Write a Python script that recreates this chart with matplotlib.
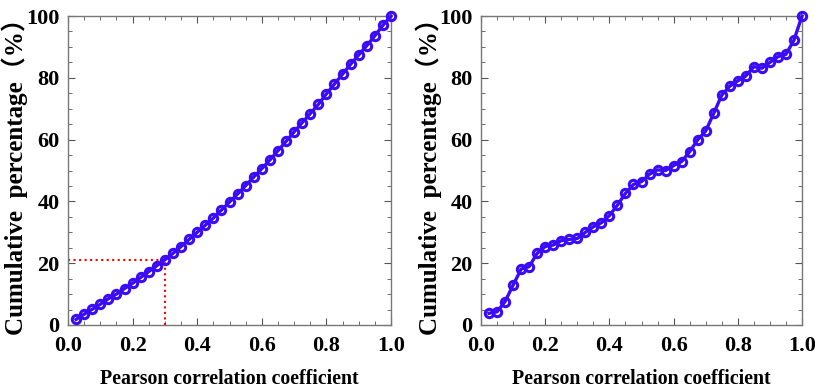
import matplotlib.pyplot as plt
import numpy as np
from matplotlib.ticker import MultipleLocator

# correlation coefficient bins (0.025 .. 1.0)
r = np.arange(1, 41) * 0.025

# cumulative percentage, left panel
cum_left = [1.8, 3.5, 5.1, 6.7, 8.5, 10.0, 11.8, 13.5, 15.4, 17.3,
            19.2, 21.1, 23.2, 25.4, 27.7, 30.0, 32.3, 34.6, 37.2, 39.8,
            42.4, 45.1, 47.9, 50.6, 53.4, 56.4, 59.4, 62.5, 65.5, 68.4,
            71.4, 74.8, 78.0, 81.2, 84.4, 87.4, 90.4, 93.6, 97.0, 100.0]

# cumulative percentage, right panel
cum_right = [3.8, 4.3, 7.6, 12.9, 18.1, 18.9, 23.2, 25.4, 25.9, 27.3,
             27.7, 28.0, 30.0, 31.8, 33.1, 35.4, 38.8, 42.6, 45.5, 46.4,
             48.8, 50.2, 50.0, 51.6, 52.9, 56.1, 59.9, 62.8, 68.5, 74.4,
             77.3, 79.0, 80.6, 83.6, 83.1, 85.0, 86.8, 87.6, 92.2, 100.0]

# marked threshold on the left panel
thr_x = 0.3
thr_y = 21.1

plt.rcParams['font.family'] = 'Liberation Serif'
plt.rcParams['font.weight'] = 'bold'

fig = plt.figure(figsize=(8.15, 3.89), dpi=100)
ax1 = fig.add_axes([68/815, 1-325/389, 323/815, 309/389])
ax2 = fig.add_axes([481/815, 1-325/389, 321/815, 309/389])

blue = '#3a0cf5'
for ax, y in [(ax1, cum_left), (ax2, cum_right)]:
    ax.plot(r, y, color=blue, lw=2.4, marker='o', ms=6, mfc='none',
            mec=blue, mew=2.2, clip_on=False, zorder=3)
    ax.set_xlim(0, 1)
    ax.set_ylim(0, 100)
    ax.xaxis.set_major_locator(MultipleLocator(0.2))
    ax.xaxis.set_minor_locator(MultipleLocator(0.05))
    ax.yaxis.set_major_locator(MultipleLocator(20))
    ax.yaxis.set_minor_locator(MultipleLocator(5))
    ax.xaxis.set_major_formatter(plt.FuncFormatter(lambda v, p: f'{v:.1f}'))
    ax.tick_params(which='both', direction='in', top=True, right=True,
                   color='#555555', labelsize=16)
    ax.tick_params(axis='x', pad=8)
    ax.tick_params(axis='y', pad=6)
    ax.tick_params(which='major', length=5)
    ax.tick_params(which='minor', length=3)
    for s in ax.spines.values():
        s.set_color('#777777')
        s.set_linewidth(1.0)
    ax.set_xlabel('Pearson correlation coefficient', fontsize=14.3, fontweight='bold')
    ax.set_ylabel('Cumulative  percentage（%）', fontsize=18, fontweight='bold',
                  family=['Liberation Serif', 'Noto Sans CJK SC'])
    ax.xaxis.set_label_coords(0.5, -0.143)
    ax.yaxis.set_label_coords(-0.123, 0.5)

ax1.plot([0, thr_x], [thr_y, thr_y], color='red', ls=':', lw=1.5, zorder=2)
ax1.plot([thr_x, thr_x], [0, thr_y], color='red', ls=':', lw=1.5, zorder=2)

fig.savefig('out.png', dpi=100)
